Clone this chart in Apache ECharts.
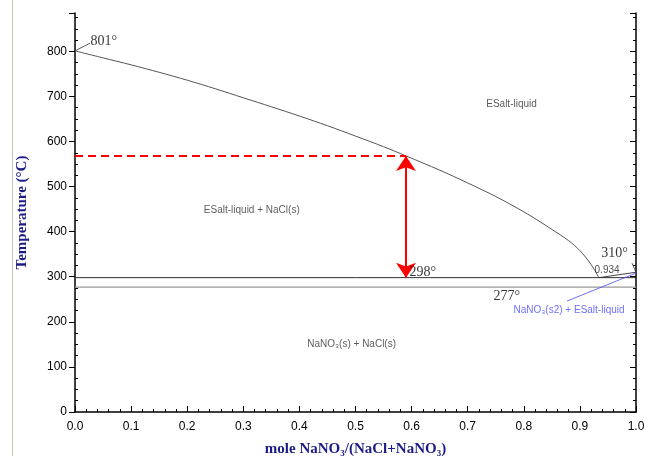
<!DOCTYPE html>
<html><head><meta charset="utf-8">
<script src="https://cdn.jsdelivr.net/npm/echarts@6/dist/echarts.min.js"></script>
<style>html,body{margin:0;padding:0;background:#fff}#c{width:646px;height:456px}</style>
</head><body><div id="c"></div>
<script>
// ---- data ----
const liquidusX = [0, 0.05, 0.1, 0.15, 0.2, 0.25, 0.3, 0.35, 0.4, 0.45, 0.5, 0.55, 0.59, 0.65, 0.7, 0.75, 0.8, 0.829, 0.85, 0.88, 0.9, 0.92, 0.934];
const liquidusT = [801, 785.5, 770, 753.5, 736, 717, 697, 677, 656.5, 635, 612, 588.5, 568, 536.5, 508, 478, 444, 422, 405, 380, 358, 327, 298];
const rightBranchX = [0.934, 1.0];
const rightBranchT = [298, 310];
const eutecticT = 298;
const transitionT = 277;
const xExtent = [0, 1];
const markX = 0.59;
const markT = 568;
const yMax = 885;
const xTicks = [0, 0.1, 0.2, 0.3, 0.4, 0.5, 0.6, 0.7, 0.8, 0.9, 1.0];
const yTicks = [0, 100, 200, 300, 400, 500, 600, 700, 800];
const regionLabels = [[0.779, 681, 'ESalt-liquid'], [0.316, 446, 'ESalt-liquid + NaCl(s)'], [0.494, 149, 'NaNO\u2083(s) + NaCl(s)']];
const degreeLabels = [[0.0285, 822, '801\u00b0'], [0.597, 308, '298\u00b0'], [0.747, 255, '277\u00b0'], [0.939, 350, '310\u00b0']];
const compLabels = [[0.927, 314, '0.934']];
const phaseLabels = [[0.7825, 225, 'NaNO\u2083(s2) + ESalt-liquid']];
const leader801 = [[0, 801], [0.0267, 818]];
const leader310 = [[0.993, 330], [1.0, 310]];
const leaderPhase = [[0.877, 246], [1.0, 308]];

// ---- build ----
const zip = (xs, ys) => xs.map((x, i) => [x, ys[i]]);
const toItems = arr => arr.map(a => ({ value: [a[0], a[1]], name: a[2] }));
const chart = echarts.init(document.getElementById('c'), null, { renderer: 'canvas' });

function labelSeries(arr, lab) {
  return {
    type: 'scatter', data: toItems(arr), symbolSize: 1, silent: true, z: 6,
    itemStyle: { color: 'rgba(0,0,0,0)' },
    label: Object.assign({ show: true, position: [0, 0], formatter: '{b}', verticalAlign: 'middle' }, lab)
  };
}
function plainLine(data, color, width, smooth) {
  return { type: 'line', data: data, symbol: 'none', silent: true, smooth: smooth || false, lineStyle: { color: color, width: width }, z: 3 };
}

const option = {
  backgroundColor: '#fff',
  animation: false,
  grid: { left: 75, right: 10, top: 13, bottom: 44, outerBoundsMode: 'none', containLabel: false },
  graphic: [{ type: 'line', shape: { x1: 12.5, y1: 0, x2: 12.5, y2: 456 }, style: { stroke: '#cbc3ab', lineWidth: 1 } }],
  xAxis: {
    type: 'value', min: xExtent[0], max: xExtent[1], interval: 0.1,
    name: 'mole NaNO\u2083/(NaCl+NaNO\u2083)', nameLocation: 'middle', nameGap: 30,
    nameTextStyle: { fontFamily: 'Liberation Serif', fontWeight: 'bold', fontSize: 15, color: '#1c1c84' },
    axisLine: { show: true, lineStyle: { color: '#000', width: 1.5 } },
    axisTick: { show: true, inside: true, length: 6, lineStyle: { color: '#000' } },
    minorTick: { show: true, splitNumber: 5, length: 3, lineStyle: { color: '#000' } },
    splitLine: { show: false },
    axisLabel: { fontFamily: 'Liberation Sans', fontSize: 12, color: '#000', margin: 9,
      formatter: v => xTicks.some(t => Math.abs(t - v) < 1e-6) ? v.toFixed(1) : '' }
  },
  yAxis: [{
    type: 'value', min: 0, max: yMax, interval: 100, position: 'left',
    name: 'Temperature (\u00b0C)', nameLocation: 'middle', nameGap: 45,
    nameTextStyle: { fontFamily: 'Liberation Serif', fontWeight: 'bold', fontSize: 15, color: '#1c1c84' },
    axisLine: { show: true, lineStyle: { color: '#000', width: 1.5 } },
    axisTick: { show: true, inside: false, length: 6, lineStyle: { color: '#000' } },
    splitLine: { show: false },
    axisLabel: { fontFamily: 'Liberation Sans', fontSize: 12, color: '#000', margin: 8,
      formatter: v => yTicks.indexOf(v) >= 0 ? String(v) : '' }
  }, {
    type: 'value', min: 0, max: yMax, interval: 100, position: 'left',
    axisLine: { show: false },
    axisTick: { show: false, inside: true },
    minorTick: { show: true, splitNumber: 4, length: 3, lineStyle: { color: '#000' } },
    splitLine: { show: false }, axisLabel: { show: false }
  }, {
    type: 'value', min: 0, max: yMax, interval: 100, position: 'right',
    axisLine: { show: true, lineStyle: { color: '#000', width: 1.5 } },
    axisTick: { show: true, inside: true, length: 6, lineStyle: { color: '#000' } },
    minorTick: { show: true, splitNumber: 4, length: 3, lineStyle: { color: '#000' } },
    splitLine: { show: false }, axisLabel: { show: false }
  }],
  series: [
    plainLine(zip(liquidusX, liquidusT), '#555', 1, 0.3),
    plainLine(zip(rightBranchX, rightBranchT), '#444', 1),
    plainLine([[xExtent[0], eutecticT], [xExtent[1], eutecticT]], '#333', 1),
    plainLine([[xExtent[0], transitionT], [xExtent[1], transitionT]], '#999', 1.2),
    plainLine(leader801, '#333', 0.8),
    plainLine(leader310, '#333', 0.8),
    plainLine(leaderPhase, '#4a4aff', 0.8),
    {
      type: 'line', data: [[xExtent[0], markT], [markX, markT]], symbol: 'none', silent: true, z: 4,
      lineStyle: { color: '#ff0000', width: 2, type: [8, 5] }
    },
    {
      type: 'line', data: [], silent: true, z: 5,
      markLine: {
        silent: true, symbol: ['arrow', 'arrow'], symbolSize: [15, 15],
        label: { show: false },
        lineStyle: { color: '#ff0000', width: 2, type: 'solid' },
        data: [[{ coord: [markX, markT] }, { coord: [markX, eutecticT] }]]
      }
    },
    labelSeries(regionLabels, { fontFamily: 'Liberation Sans', fontSize: 10, color: '#333', align: 'center' }),
    labelSeries(degreeLabels, { fontFamily: 'Liberation Serif', fontSize: 14, color: '#000', align: 'left' }),
    labelSeries(compLabels, { fontFamily: 'Liberation Sans', fontSize: 10, color: '#222', align: 'left' }),
    labelSeries(phaseLabels, { fontFamily: 'Liberation Sans', fontSize: 10, color: '#4a4aff', align: 'left' })
  ]
};
chart.setOption(option);
</script></body></html>
